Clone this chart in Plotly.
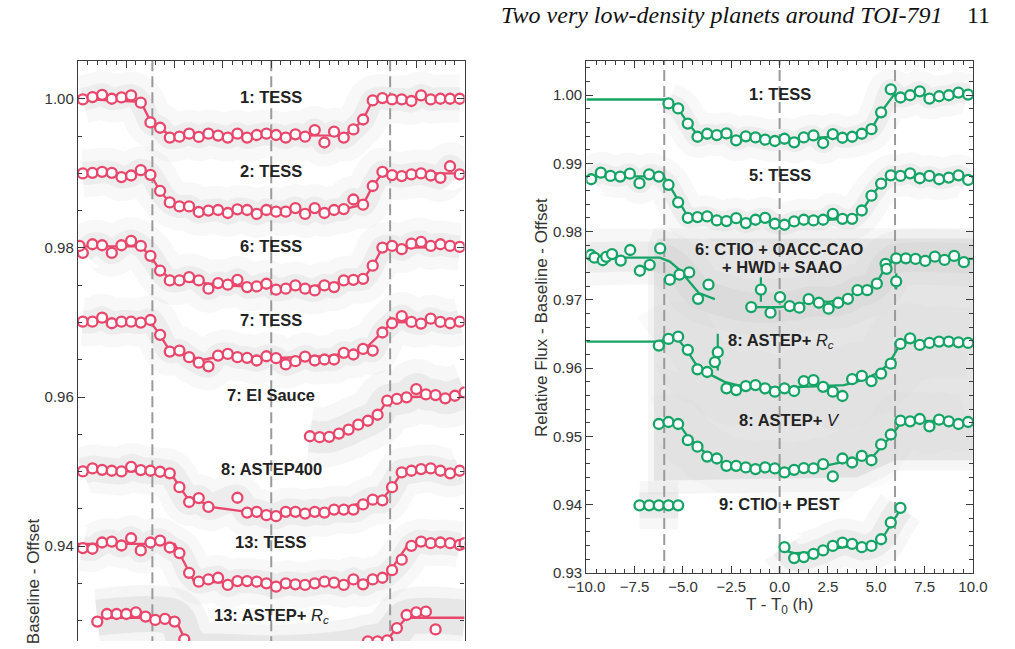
import plotly.graph_objects as go

# ======================= DATA =======================
# common bin centres (hours from mid-transit)
TBIN = [-9.75, -9.25, -8.75, -8.25, -7.75, -7.25, -6.75, -6.25, -5.75, -5.25,
        -4.75, -4.25, -3.75, -3.25, -2.75, -2.25, -1.75, -1.25, -0.75, -0.25,
        0.25, 0.75, 1.25, 1.75, 2.25, 2.75, 3.25, 3.75, 4.25, 4.75,
        5.25, 5.75, 6.25, 6.75, 7.25, 7.75, 8.25, 8.75, 9.25, 9.75]

# ---------- left panel (pink) ----------
L1_TESS = [0.99991, 1.00022, 1.00053, 1.00000, 1.00018, 1.00044, 0.99947, 0.99682, 0.99611, 0.99479,
           0.99492, 0.99532, 0.99488, 0.99532, 0.99506, 0.99479, 0.99532, 0.99479, 0.99514, 0.99532,
           0.99514, 0.99479, 0.99523, 0.99492, 0.99580, 0.99413, 0.99559, 0.99479, 0.99589, 0.99722,
           0.99978, 1.00009, 0.99991, 0.99991, 0.99970, 1.00044, 0.99991, 1.00000, 1.00000, 1.00000]
L2_TESS = [0.98998, 0.99007, 0.99020, 0.99007, 0.98950, 0.98971, 0.99042, 0.98980, 0.98764, 0.98609,
           0.98556, 0.98556, 0.98481, 0.98500, 0.98508, 0.98468, 0.98517, 0.98508, 0.98455, 0.98508,
           0.98486, 0.98486, 0.98534, 0.98455, 0.98534, 0.98468, 0.98508, 0.98521, 0.98649, 0.98579,
           0.98830, 0.99020, 0.98976, 0.98963, 0.98985, 0.98998, 0.98971, 0.98940, 0.99095, 0.98985]
L6_TESS = [0.97934, 0.98049, 0.98035, 0.97934, 0.98035, 0.98093, 0.98026, 0.97894, 0.97695, 0.97563,
           0.97563, 0.97607, 0.97563, 0.97453, 0.97528, 0.97506, 0.97572, 0.97474, 0.97483, 0.97519,
           0.97440, 0.97453, 0.97497, 0.97453, 0.97430, 0.97497, 0.97474, 0.97563, 0.97572, 0.97585,
           0.97762, 0.98004, 0.98026, 0.97982, 0.98057, 0.98080, 0.98026, 0.98049, 0.98026, 0.98013]
L6_EXTRA_T = [-9.92]
L6_EXTRA_F = [0.98026]
L7_TESS = [0.97011, 0.97011, 0.97064, 0.96989, 0.97011, 0.97011, 0.96998, 0.97033, 0.96834, 0.96609,
           0.96623, 0.96534, 0.96460, 0.96411, 0.96556, 0.96578, 0.96534, 0.96525, 0.96490, 0.96547,
           0.96521, 0.96437, 0.96481, 0.96543, 0.96490, 0.96503, 0.96503, 0.96592, 0.96570, 0.96645,
           0.96623, 0.96865, 0.96989, 0.97086, 0.97007, 0.96985, 0.97051, 0.97007, 0.96989, 0.97011]
EL_T = [2.0, 2.5, 3.0, 3.5, 4.0, 4.5, 5.0, 5.5, 6.0, 6.5, 7.0, 7.5, 8.0, 8.5, 9.0, 9.5, 10.0]
EL_F = [0.95474, 0.95461, 0.95466, 0.95510, 0.95563, 0.95629, 0.95682, 0.95762, 0.95951, 0.95974,
        0.95996, 0.96106, 0.96035, 0.96026, 0.95982, 0.96017, 0.96062]
L8_ASTEP400 = [0.95002, 0.95042, 0.95024, 0.95011, 0.95002, 0.95064, 0.95020, 0.95011, 0.94998, 0.94976,
               0.94791, 0.94592, 0.94645, 0.94526, None, None, 0.94649, 0.94450, 0.94460, 0.94415,
               0.94402, 0.94460, 0.94460, 0.94437, 0.94460, 0.94450, 0.94490, 0.94490, 0.94490, 0.94560,
               0.94623, 0.94614, 0.94791, 0.94989, 0.95011, 0.95033, 0.95042, 0.95011, 0.94976, 0.95011]
L13_TESS = [0.93974, 0.93965, 0.94049, 0.94062, 0.94009, 0.94106, 0.93943, 0.94049, 0.94075, 0.93982,
            0.93907, 0.93642, 0.93523, 0.93554, 0.93576, 0.93480, 0.93532, 0.93532, 0.93523, 0.93501,
            0.93457, 0.93501, 0.93488, 0.93480, 0.93501, 0.93523, 0.93510, 0.93480, 0.93554, 0.93488,
            0.93554, 0.93576, 0.93678, 0.93819, 0.94004, 0.94062, 0.94040, 0.94049, 0.94040, 0.94018]
L13_EXTRA_T = [10.0]
L13_EXTRA_F = [0.94040]
RC_T = [-9.0, -8.5, -8.0, -7.5, -7.0, -6.5, -6.0, -5.5, -5.0, -4.5, 5.0, 5.5, 6.0, 6.5, 7.0, 7.5, 8.0, 8.5]
RC_F = [0.92989, 0.93090, 0.93090, 0.93090, 0.93113, 0.93056, 0.93011, 0.93024, 0.92989, 0.92751,
        0.92724, 0.92724, 0.92737, 0.92901, 0.93077, 0.93113, 0.93121, 0.92883]

# left models
LM1_T = [-10, -6.75, -6.25, -5.75, -5.25, -4.5, 0.0, 3.75, 4.25, 4.75, 5.25, 5.75, 10]
LM1_F = [1.0000, 0.99960, 0.99700, 0.99610, 0.99510, 0.99500, 0.99500, 0.99510, 0.99590, 0.99720, 0.99980, 1.00000, 1.00000]
LM2_T = [-10, -6.25, -5.75, -5.25, -4.75, -4.25, 0.0, 3.75, 4.75, 5.25, 5.75, 10]
LM2_F = [0.99000, 0.98990, 0.98760, 0.98610, 0.98550, 0.98520, 0.98490, 0.98520, 0.98580, 0.98830, 0.99000, 0.99000]
LM6_T = [-10, -6.75, -6.25, -5.75, -5.25, -4.0, -2.0, 0.0, 2.0, 3.5, 4.75, 5.25, 5.75, 10]
LM6_F = [0.98020, 0.98020, 0.97890, 0.97700, 0.97590, 0.97540, 0.97490, 0.97470, 0.97480, 0.97530, 0.97580, 0.97760, 0.98000, 0.98010]
LM7_T = [-10, -6.25, -5.75, -5.25, -4.5, -3.5, -2.75, 0.0, 3.0, 4.75, 5.75, 6.25, 10]
LM7_F = [0.97010, 0.97010, 0.96830, 0.96620, 0.96560, 0.96500, 0.96540, 0.96520, 0.96550, 0.96620, 0.96870, 0.97000, 0.97010]
LMEL_T = [2.0, 3.0, 3.5, 4.0, 4.5, 5.0, 5.5, 6.0, 6.5, 7.0, 10]
LMEL_F = [0.95470, 0.95470, 0.95510, 0.95560, 0.95630, 0.95680, 0.95760, 0.95950, 0.95980, 0.96000, 0.96010]
LM8_T = [-10, -5.25, -4.75, -4.25, -3.75, -3.25, -1.25, 0.0, 2.0, 3.5, 4.25, 5.25, 5.75, 6.25, 6.75, 10]
LM8_F = [0.95010, 0.95000, 0.94800, 0.94610, 0.94620, 0.94530, 0.94460, 0.94440, 0.94450, 0.94490, 0.94550, 0.94620, 0.94630, 0.94790, 0.94990, 0.95010]
LM13_T = [-10, -5.0, -4.0, -2.0, 0.0, 2.0, 4.5, 5.5, 6.0, 7.1, 10]
LM13_F = [0.94030, 0.94030, 0.93530, 0.93500, 0.93480, 0.93490, 0.93530, 0.93560, 0.93610, 0.94030, 0.94030]
LMRC_T = [-9.0, -5.0, -4.5, -4.0, -2.0, 0.0, 2.0, 4.5, 5.0, 5.5, 6.0, 6.5, 7.0, 10]
LMRC_F = [0.93040, 0.93040, 0.92770, 0.92620, 0.92580, 0.92560, 0.92580, 0.92660, 0.92700, 0.92720, 0.92750, 0.92900, 0.93040, 0.93040]

# ---------- right panel (green) ----------
R1_TESS = [None] * 8 + [0.99877, 0.99805, 0.99583, 0.99389, 0.99433, 0.99414, 0.99438, 0.99337, 0.99395, 0.99380,
                        0.99346, 0.99327, 0.99360, 0.99308, 0.99380, 0.99409, 0.99298, 0.99428, 0.99375, 0.99389,
                        0.99433, 0.99500, 0.99747, 1.00084, 0.99964, 0.99997, 1.00055, 0.99949, 0.99983, 0.99997,
                        1.00036, 1.00007]
R5_TESS = [0.98767, 0.98863, 0.98816, 0.98806, 0.98849, 0.98709, 0.98839, 0.98806, 0.98685, 0.98429,
           0.98202, 0.98212, 0.98222, 0.98164, 0.98154, 0.98197, 0.98125, 0.98173, 0.98202, 0.98115,
           0.98100, 0.98149, 0.98173, 0.98164, 0.98173, 0.98260, 0.98187, 0.98187, 0.98309, 0.98526,
           0.98704, 0.98824, 0.98816, 0.98853, 0.98781, 0.98816, 0.98767, 0.98791, 0.98824, 0.98757]
R6_T = [-9.77, -9.58, -9.15, -8.97, -8.67, -8.22, -7.73, -7.23, -6.72, -6.18,
        -5.68, -5.18, -4.68, -4.22, -3.68, -1.47, -0.97, -0.47, 0.02, 0.52,
        1.02, 1.50, 2.03, 2.53, 3.03, 3.53, 4.03, 4.53, 5.03, 5.48,
        5.53, 6.03, 6.03, 6.53, 7.03, 7.53, 8.03, 8.53, 9.03, 9.53]
R6_F = [0.97657, 0.97618, 0.97580, 0.97630, 0.97670, 0.97575, 0.97730, 0.97426, 0.97513, 0.97753,
        0.97295, 0.97368, 0.97401, 0.97015, 0.97223, 0.96894, 0.97151, 0.96812, 0.97039, 0.96909,
        0.96885, 0.97010, 0.96957, 0.96870, 0.96957, 0.97015, 0.97141, 0.97141, 0.97237, 0.97527,
        0.97455, 0.97271, 0.97608, 0.97608, 0.97599, 0.97570, 0.97633, 0.97585, 0.97643, 0.97551]
R6_ERR = [0, 0, 0, 0, 0, 0, 0, 0, 0, 0,
          0.0008, 0.0008, 0.0004, 0.0006, 0.0006, 0, 0.0018, 0, 0, 0,
          0, 0, 0, 0, 0, 0.0008, 0, 0, 0, 0,
          0, 0.0012, 0, 0, 0, 0, 0, 0, 0, 0]
R8RC = [None] * 7 + [0.96330, 0.96427, 0.96460, 0.96267, 0.95982, 0.95943, None, 0.95703, 0.95678, 0.95736,
                     0.95751, 0.95703, 0.95654, 0.95703, 0.95664, 0.95809, 0.95823, 0.95726, 0.95654, 0.95591,
                     0.95838, 0.95885, 0.95809, 0.95920, 0.96065, 0.96354, 0.96436, 0.96340, 0.96369, 0.96388,
                     0.96388, 0.96378, 0.96369]
R8RC_EXTRA_T = [-3.35, -3.20]
R8RC_EXTRA_F = [0.96088, 0.96233]
R8RC_EXTRA_ERR = [0.0, 0.0027]
R8V = [None] * 7 + [0.95181, 0.95210, 0.95181, 0.94944, 0.94849, 0.94704, 0.94675, 0.94568, 0.94568, 0.94545,
                    0.94520, 0.94545, 0.94530, 0.94472, 0.94510, 0.94535, 0.94530, 0.94592, 0.94414, 0.94675,
                    0.94617, 0.94713, 0.94650, 0.94882, 0.95027, 0.95230, 0.95220, 0.95254, 0.95147, 0.95244,
                    0.95220, 0.95181, 0.95210]
R9 = [None] * 5 + [0.93989, 0.93989, 0.93989, 0.93989, 0.93989] + [None] * 10 + \
     [0.93376, 0.93217, 0.93231, 0.93279, 0.93328, 0.93395, 0.93444, 0.93424, 0.93376, 0.93395,
      0.93492, 0.93738, 0.93951] + [None] * 7

# extent of the dense ASTEP+ raw-data cloud
ASTEP_CLOUD_T = [-6.5, -6.3, 10.0, 10.0, 6.0, 4.0, -6.5]
ASTEP_CLOUD_F = [0.9775, 0.9790, 0.9790, 0.9465, 0.9465, 0.9440, 0.9435]
ASTEP_HALO_T = [-6.8, -6.5, 10.0, 10.0, 6.0, 4.0, -6.8]
ASTEP_HALO_F = [0.9780, 0.9805, 0.9805, 0.9450, 0.9450, 0.9420, 0.9415]

# right models
RM1_T = [-10, -5.9, -5.75, -5.25, -4.75, -4.25, -3.0, 0.0, 3.0, 4.25, 4.75, 5.25, 5.9, 10]
RM1_F = [0.99935, 0.99935, 0.99880, 0.99800, 0.99590, 0.99420, 0.99390, 0.99350, 0.99390, 0.99430, 0.99500, 0.99750, 1.00000, 1.00000]
RM5_T = [-10, -6.0, -5.75, -5.25, -4.75, -4.25, 0.0, 3.75, 4.25, 4.75, 5.25, 5.75, 10]
RM5_F = [0.98810, 0.98810, 0.98700, 0.98450, 0.98220, 0.98190, 0.98140, 0.98190, 0.98300, 0.98520, 0.98700, 0.98810, 0.98810]
RM6_T = [-10, -6.2, -5.68, -5.18, -4.68, -4.18, -3.35, None, -1.68, 0.0, 0.5, 1.0, 1.5, 2.0, 2.5,
         3.0, 3.5, 4.0, 4.5, 5.0, 5.5, 6.0, 10]
RM6_F = [0.97618, 0.97618, 0.97560, 0.97440, 0.97270, 0.97100, 0.97010, None, 0.96894, 0.96894, 0.96910,
         0.96930, 0.96970, 0.96980, 0.96970, 0.96990, 0.97030, 0.97120, 0.97140, 0.97240, 0.97490, 0.97600, 0.97600]
RM8RC_T = [-10, -6.35, -5.35, -4.85, -4.35, -3.85, -3.35, -2.85, -2.35, -1.68, 0.0, 1.65, 3.32, 3.98,
           4.65, 5.15, 5.65, 6.15, 6.65, 10]
RM8RC_F = [0.96388, 0.96388, 0.96450, 0.96282, 0.96065, 0.95943, 0.95871, 0.95798, 0.95761, 0.95726,
           0.95712, 0.95726, 0.95751, 0.95798, 0.95871, 0.95943, 0.96065, 0.96305, 0.96388, 0.96388]
RM8V_T = [-6.25, -5.75, -5.15, -4.65, -4.15, -3.65, -3.15, -2.65, -1.68, 0.0, 1.17, 2.32, 4.35, 4.85,
          5.35, 5.85, 6.35, 10]
RM8V_F = [0.95181, 0.95190, 0.95157, 0.94955, 0.94834, 0.94713, 0.94640, 0.94582, 0.94545, 0.94520,
          0.94530, 0.94568, 0.94689, 0.94713, 0.94872, 0.95027, 0.95230, 0.95220]
RM9_T = [-7.25, -5.25, None, 0.08, 0.78, 1.65, 2.65, 3.32, 4.32, 4.98, 5.28, 5.78, 6.28]
RM9_F = [0.93989, 0.93989, None, 0.93337, 0.93289, 0.93299, 0.93347, 0.93376, 0.93395, 0.93434, 0.93492, 0.93724, 0.93941]

# transit limits (dashed lines)
LEFT_MARKS = [-6.15, 0.0, 6.15]
RIGHT_MARKS = [-5.97, 0.0, 5.97]

LEFT_LABELS = ["<b>1: TESS</b>", "<b>2: TESS</b>", "<b>6: TESS</b>", "<b>7: TESS</b>", "<b>7: El Sauce</b>",
               "<b>8: ASTEP400</b>", "<b>13: TESS</b>", "<b>13: ASTEP+ </b><i>R</i><sub><i>c</i></sub>"]
LEFT_LABEL_Y = [1.00023, 0.99029, 0.98026, 0.97033, 0.96026, 0.95033, 0.94049, 0.93060]
RIGHT_LABELS = ["<b>1: TESS</b>", "<b>5: TESS</b>", "<b>6: CTIO + OACC-CAO</b>", "<b>+ HWD + SAAO</b>",
                "<b>8: ASTEP+ </b><i>R</i><sub><i>c</i></sub>", "<b>8: ASTEP+ </b><i>V</i>", "<b>9: CTIO + PEST</b>"]
RIGHT_LABEL_X = [0.0, 0.0, -0.05, 0.1, 0.05, 0.5, 0.0]
RIGHT_LABEL_Y = [1.00022, 0.98830, 0.97739, 0.97488, 0.96402, 0.95244, 0.94013]

# ======================= STYLE =======================
W, H = 1015, 649
PINK = '#e9466b'
GREEN = '#16a466'
GREY = (204, 204, 204)
AX = '#3c3c3c'
FONT = 'Liberation Sans'

fig = go.Figure()


def rgba(a):
    return 'rgba(%d,%d,%d,%.3f)' % (GREY + (a,))


def cloud(x, y, xa, ya, widths, alphas, gaps=True):
    for w, a in zip(widths, alphas):
        fig.add_trace(go.Scatter(x=x, y=y, xaxis=xa, yaxis=ya, mode='lines', connectgaps=gaps,
                                 line=dict(color=rgba(a), width=w, shape='spline', smoothing=0.9),
                                 hoverinfo='skip', showlegend=False))


def area(x, y, xa, ya, a):
    fig.add_trace(go.Scatter(x=x, y=y, xaxis=xa, yaxis=ya, mode='lines', fill='toself',
                             fillcolor=rgba(a), line=dict(width=0, color=rgba(0)),
                             hoverinfo='skip', showlegend=False))


# ---- scatter clouds (left, px per 0.01 = 75.5) ----
LW, LA = [48, 23], [0.13, 0.26]
cloud(TBIN, L1_TESS, 'x', 'y', LW, LA)
cloud(TBIN, L2_TESS, 'x', 'y', LW, LA)
cloud(TBIN, L6_TESS, 'x', 'y', LW, LA)
cloud(TBIN, L7_TESS, 'x', 'y', LW, LA)
cloud(EL_T, EL_F, 'x', 'y', [60, 32], [0.15, 0.27])
cloud(TBIN, L8_ASTEP400, 'x', 'y', [48, 26], LA)
cloud(TBIN, L13_TESS, 'x', 'y', [46, 24], LA)
cloud(LMRC_T, LMRC_F, 'x', 'y', [58, 36], [0.2, 0.34])

# ---- scatter clouds (right, px per 0.01 = 69.1) ----
RW, RA = [42, 20], [0.13, 0.26]
cloud(TBIN, R1_TESS, 'x2', 'y2', RW, RA)
cloud(TBIN, R5_TESS, 'x2', 'y2', RW, RA)
cloud(RM6_T, RM6_F, 'x2', 'y2', [56, 30], [0.15, 0.25])
area(ASTEP_HALO_T, ASTEP_HALO_F, 'x2', 'y2', 0.18)
area(ASTEP_CLOUD_T, ASTEP_CLOUD_F, 'x2', 'y2', 0.42)
cloud(TBIN, R8RC, 'x2', 'y2', [70], [0.10])
cloud(TBIN, R8V, 'x2', 'y2', [55], [0.10])
cloud(TBIN, R9, 'x2', 'y2', [48, 26], [0.15, 0.27], gaps=False)

# ---- dashed transit markers ----
for marks, xa, ya, lo, hi in [(LEFT_MARKS, 'x', 'y', 0.92, 1.01), (RIGHT_MARKS, 'x2', 'y2', 0.92, 1.01)]:
    xs, ys = [], []
    for m in marks:
        xs += [m, m, None]
        ys += [lo, hi, None]
    fig.add_trace(go.Scatter(x=xs, y=ys, xaxis=xa, yaxis=ya, mode='lines',
                             line=dict(color='#9a9a9a', width=2, dash='11px,5px'),
                             hoverinfo='skip', showlegend=False))

# ---- model lines ----
for t, f in [(LM1_T, LM1_F), (LM2_T, LM2_F), (LM6_T, LM6_F), (LM7_T, LM7_F), (LMEL_T, LMEL_F),
             (LM8_T, LM8_F), (LM13_T, LM13_F), (LMRC_T, LMRC_F)]:
    fig.add_trace(go.Scatter(x=t, y=f, xaxis='x', yaxis='y', mode='lines',
                             line=dict(color=PINK, width=2.3), hoverinfo='skip', showlegend=False))
for t, f in [(RM1_T, RM1_F), (RM5_T, RM5_F), (RM6_T, RM6_F), (RM8RC_T, RM8RC_F), (RM8V_T, RM8V_F),
             (RM9_T, RM9_F)]:
    fig.add_trace(go.Scatter(x=t, y=f, xaxis='x2', yaxis='y2', mode='lines', connectgaps=False,
                             line=dict(color=GREEN, width=2.3), hoverinfo='skip', showlegend=False))


# ---- binned points ----
def pts(x, y, xa, ya, col, err=None):
    kw = {}
    if err is not None:
        kw['error_y'] = dict(type='data', array=err, visible=True, color=col, thickness=2.2, width=0)
    fig.add_trace(go.Scatter(x=x, y=y, xaxis=xa, yaxis=ya, mode='markers',
                             marker=dict(symbol='circle', size=10, color='white',
                                         line=dict(color=col, width=2.3)),
                             hoverinfo='skip', showlegend=False, **kw))


for row in [L1_TESS, L2_TESS, L6_TESS, L7_TESS, L8_ASTEP400, L13_TESS]:
    pts(TBIN, row, 'x', 'y', PINK)
pts(L6_EXTRA_T, L6_EXTRA_F, 'x', 'y', PINK)
pts(L13_EXTRA_T, L13_EXTRA_F, 'x', 'y', PINK)
pts(EL_T, EL_F, 'x', 'y', PINK)
pts(RC_T, RC_F, 'x', 'y', PINK)

for row in [R1_TESS, R5_TESS, R8RC, R8V, R9]:
    pts(TBIN, row, 'x2', 'y2', GREEN)
pts(R6_T, R6_F, 'x2', 'y2', GREEN, R6_ERR)
pts(R8RC_EXTRA_T, R8RC_EXTRA_F, 'x2', 'y2', GREEN, R8RC_EXTRA_ERR)

# ======================= LAYOUT =======================
tickfont = dict(family=FONT, size=15, color='#333333')
common = dict(showline=True, linecolor=AX, linewidth=1.3, ticks='inside', ticklen=7, tickwidth=1.2,
              tickcolor=AX, showgrid=False, zeroline=False, tickfont=tickfont)
TOP = 1 - 61.7 / H

fig.update_layout(
    width=W, height=H, margin=dict(l=0, r=0, t=0, b=0),
    paper_bgcolor='white', plot_bgcolor='white', showlegend=False,
    xaxis=dict(domain=[61 / W, 461 / W], range=[-10, 10], anchor='y', side='top',
               tick0=0, dtick=2.5, showticklabels=False,
               minor=dict(dtick=0.5, ticklen=4, tickwidth=1.1, tickcolor=AX, ticks='inside', showgrid=False),
               **common),
    yaxis=dict(domain=[0, TOP], range=[0.92728, 1.00507], anchor='x', mirror='ticks',
               tick0=0, dtick=0.02, tickformat='.2f',
               minor=dict(dtick=0.005, ticklen=4, tickwidth=1.1, tickcolor=AX, ticks='inside', showgrid=False),
               **common),
    xaxis2=dict(domain=[587 / W, 987 / W], range=[-10, 10], anchor='y2', mirror='ticks',
                tick0=0, dtick=2.5, tickformat='.1f',
                minor=dict(dtick=0.5, ticklen=4, tickwidth=1.1, tickcolor=AX, ticks='inside', showgrid=False),
                **common),
    yaxis2=dict(domain=[1 - 580 / H, TOP], range=[0.93, 1.005], anchor='x2', mirror='ticks',
                tick0=0, dtick=0.01, tickformat='.2f',
                minor=dict(dtick=0.002, ticklen=4, tickwidth=1.1, tickcolor=AX, ticks='inside', showgrid=False),
                **common),
)

ann = []
lab_font = dict(family=FONT, size=16.5, color='#222222')
for txt, yv in zip(LEFT_LABELS, LEFT_LABEL_Y):
    ann.append(dict(text=txt, x=0, y=yv, xref='x', yref='y', showarrow=False, font=lab_font,
                    xanchor='center', yanchor='middle'))
for txt, xv, yv in zip(RIGHT_LABELS, RIGHT_LABEL_X, RIGHT_LABEL_Y):
    ann.append(dict(text=txt, x=xv, y=yv, xref='x2', yref='y2', showarrow=False, font=lab_font,
                    xanchor='center', yanchor='middle'))

title_font = dict(family=FONT, size=17, color='#333333')
P = dict(xref='paper', yref='paper', showarrow=False, xanchor='center', yanchor='middle')
ann.append(dict(text='Relative Flux - Baseline - Offset', textangle=-90, x=540 / W, y=1 - 321 / H,
                font=title_font, **P))
ann.append(dict(text='Relative Flux - Baseline - Offset', textangle=-90, x=15 / W, y=1 - 646 / H,
                font=title_font, **P))
ann.append(dict(text='T - T<sub>0</sub> (h)', x=787 / W, y=1 - 614 / H, font=title_font, **P))
HP = dict(xref='paper', yref='paper', showarrow=False, xanchor='right', yanchor='middle')
ann.append(dict(text='<i>Two very low-density planets around TOI-791</i>', x=958 / W, y=1 - 15 / H,
                font=dict(family='Liberation Serif', size=24, color='#111111'), **HP))
ann.append(dict(text='11', x=1007 / W, y=1 - 15 / H,
                font=dict(family='Liberation Serif', size=24, color='#111111'), **HP))
fig.update_layout(annotations=ann)

fig.write_html('out.html')
